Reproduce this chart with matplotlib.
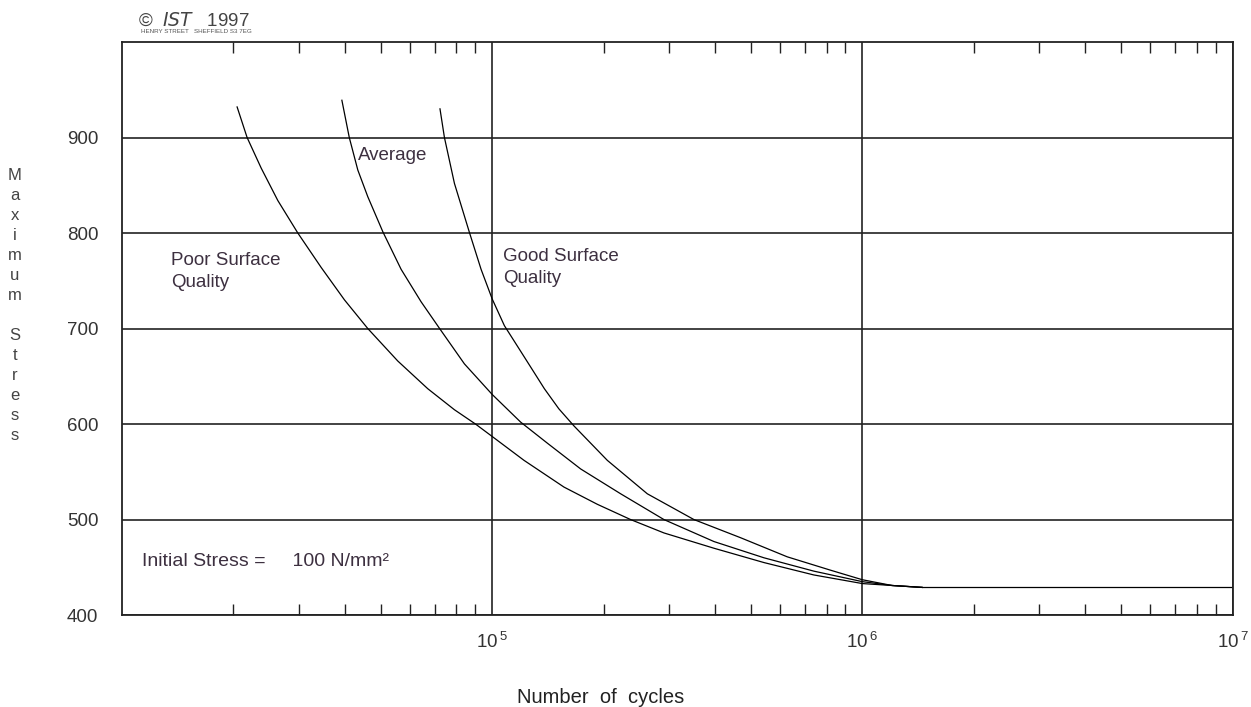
import matplotlib.pyplot as plt
import numpy as np
from matplotlib.ticker import LogLocator, NullFormatter, FixedLocator

plt.rcParams['font.family'] = ['Liberation Sans', 'DejaVu Sans']
plt.rcParams['mathtext.fontset'] = 'custom'
plt.rcParams['mathtext.rm'] = 'Liberation Sans'

# S-N curves: log10(cycles) and max stress (N/mm2)
poor_logn = [4.311, 4.338, 4.376, 4.421, 4.475, 4.538, 4.601, 4.664, 4.745, 4.826, 4.898, 4.955,
             5.000, 5.086, 5.194, 5.284, 5.374, 5.464, 5.599, 5.734, 5.869, 6.000, 6.080, 6.161]
poor_s = [932, 900, 868, 834, 800, 764, 730, 700, 666, 637, 615, 600,
          587, 562, 534, 516, 500, 486, 470, 455, 442, 433, 431, 429]

avg_logn = [4.594, 4.614, 4.637, 4.664, 4.705, 4.754, 4.808, 4.858, 4.925, 5.000, 5.077,
            5.149, 5.239, 5.347, 5.464, 5.599, 5.734, 5.869, 6.000, 6.080, 6.161]
avg_s = [939, 900, 866, 838, 801, 762, 728, 700, 663, 631, 602,
         580, 553, 527, 500, 477, 460, 446, 435, 431, 429]

good_logn = [4.859, 4.871, 4.898, 4.939, 4.970, 5.000, 5.033, 5.074, 5.110, 5.141, 5.180, 5.221,
             5.311, 5.419, 5.545, 5.671, 5.797, 5.914, 6.000, 6.080, 6.161]
good_s = [930, 900, 852, 800, 762, 731, 703, 678, 656, 637, 616, 598,
          562, 527, 500, 481, 461, 447, 437, 431, 429]

limit_logn = [6.161, 7.0]
limit_s = [429, 429]

y_ticks = [400, 500, 600, 700, 800, 900]
x_major = [1e5, 1e6, 1e7]
x_labels = ['$\\mathregular{10^{\\,5}}$', '$\\mathregular{10^{\\,6}}$', '$\\mathregular{10^{\\,7}}$']

txt = '#3d3040'

fig = plt.figure(figsize=(12.51, 7.07), dpi=100)
ax = fig.add_axes([0.0975, 0.130, 0.8878, 0.8106])

for ln, s in [(poor_logn, poor_s), (avg_logn, avg_s), (good_logn, good_s), (limit_logn, limit_s)]:
    ax.plot(10 ** np.array(ln), s, color='black', lw=0.9)

ax.set_xscale('log')
ax.set_xlim(1e4, 1e7)
ax.set_ylim(400, 1000)

ax.yaxis.set_major_locator(FixedLocator(y_ticks))
ax.set_yticklabels([str(v) for v in y_ticks], fontsize=13.5, color='#333333')
ax.tick_params(axis='y', length=0, pad=17)

ax.xaxis.set_major_locator(FixedLocator(x_major))
ax.set_xticklabels(x_labels, fontsize=13.5, color='#333333')
ax.xaxis.set_minor_locator(LogLocator(base=10, subs=np.arange(2, 10), numticks=20))
ax.xaxis.set_minor_formatter(NullFormatter())
ax.tick_params(axis='x', which='major', length=0, pad=12)
ax.tick_params(axis='x', which='minor', direction='in', length=8, width=1,
               top=True, bottom=True, color='#222222')

ax.grid(True, axis='y', color='#222222', lw=1.2)
ax.grid(True, axis='x', which='major', color='#222222', lw=1.2)
for sp in ax.spines.values():
    sp.set_color('#222222')
    sp.set_linewidth(1.3)

ax.text(1.36e4, 780, 'Poor Surface\nQuality', fontsize=13.5, color=txt, va='top', linespacing=1.4)
ax.text(4.35e4, 890, 'Average', fontsize=13.5, color=txt, va='top')
ax.text(1.07e5, 784, 'Good Surface\nQuality', fontsize=13.5, color=txt, va='top', linespacing=1.35)
ax.text(1.13e4, 456, 'Initial Stress =     100 N/mm²', fontsize=14, color=txt, va='center')

# stacked vertical y label
fig.text(0.012, 0.568, '\n'.join('Maximum Stress'), fontsize=12, color='#444444',
         ha='center', va='center', linespacing=1.42)
fig.text(0.480, 0.013, 'Number  of  cycles', fontsize=14.5, color='#222222', ha='center', va='center')

fig.text(0.110, 0.958, '©  $\\it{IST}$   1997', fontsize=13.5, color='#444444', ha='left', va='bottom')
fig.text(0.113, 0.955, 'HENRY STREET   SHEFFIELD S3 7EG', fontsize=4.5, color='#555555',
         ha='left', va='center')

fig.savefig('out.png', dpi=100)
